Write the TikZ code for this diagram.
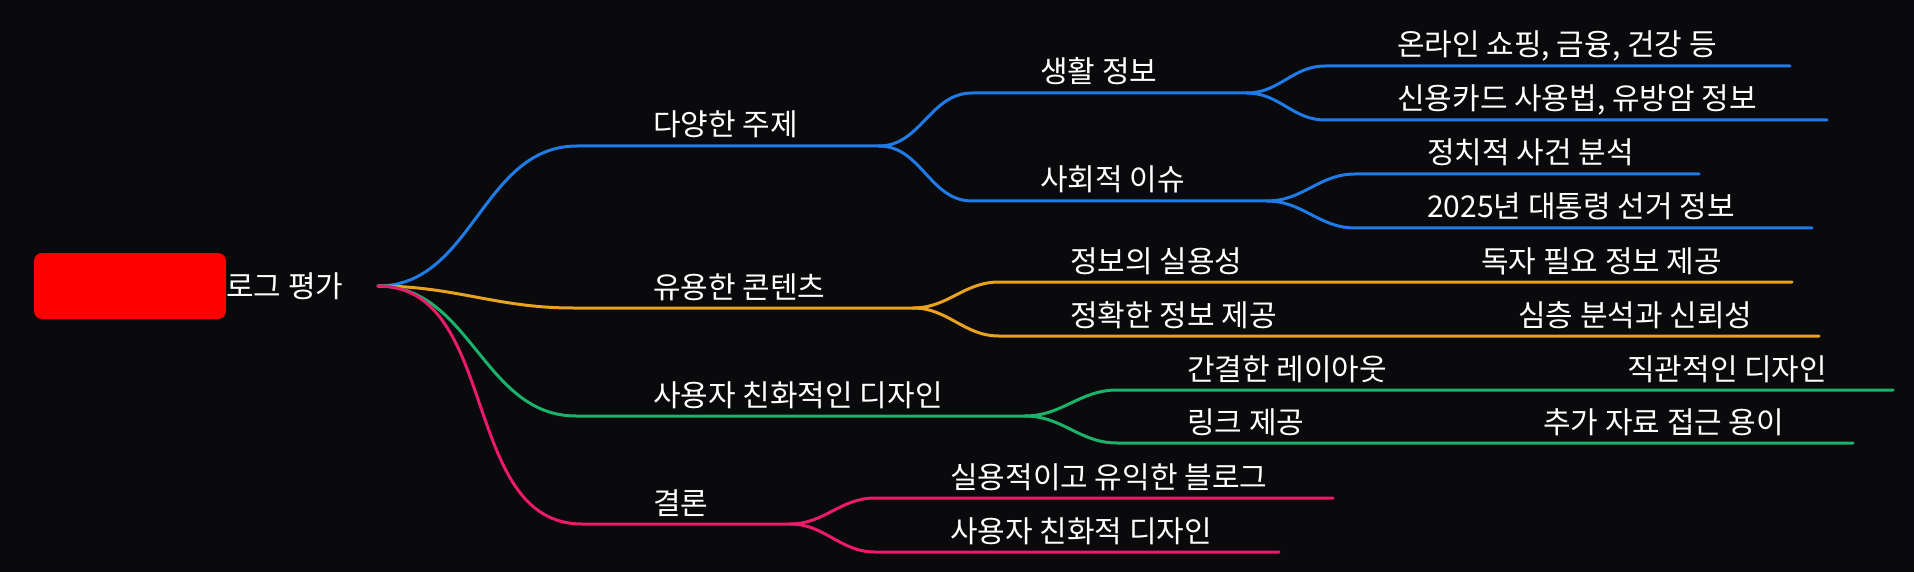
\documentclass[tikz,border=0pt]{standalone}
\usepackage{fontspec}
\setmainfont{Noto Sans CJK KR}
\definecolor{bgc}{HTML}{0A0A0C}
\definecolor{cblue}{HTML}{1E7BE8}
\definecolor{corange}{HTML}{E9A21F}
\definecolor{cgreen}{HTML}{1BB36B}
\definecolor{cpink}{HTML}{EC1A6B}
\begin{document}
\begin{tikzpicture}[x=1pt,y=-1pt,
  br/.style={line width=3pt,line cap=round},
  lbl/.style={text=white,anchor=base west,inner sep=0pt,font=\fontsize{30}{34}\selectfont},
  rootbox/.style={fill=red,rounded corners=8pt}]
\useasboundingbox[fill=bgc] (0,0) rectangle (1914,572);
% root
\fill[rootbox] (34,253) rectangle (226,319);
\node[lbl] (rootlbl) at (226,297) {로그 평가};
\coordinate (root) at (378,286);
% coordinates
\coordinate (b1s) at (577,146); \coordinate (b1e) at (879,146);
\coordinate (b11s) at (972,93); \coordinate (b11e) at (1247,93);
\coordinate (b111s) at (1325,66); \coordinate (b111e) at (1790,66);
\coordinate (b112s) at (1325,120); \coordinate (b112e) at (1827,120);
\coordinate (b12s) at (972,201); \coordinate (b12e) at (1267,201);
\coordinate (b121s) at (1355,174); \coordinate (b121e) at (1699,174);
\coordinate (b122s) at (1355,228); \coordinate (b122e) at (1812,228);
\coordinate (o1s) at (573,308); \coordinate (o1e) at (913,308);
\coordinate (o11s) at (999,282); \coordinate (o11e) at (1792,282);
\coordinate (o12s) at (999,336); \coordinate (o12e) at (1819,336);
\coordinate (g1s) at (576,416); \coordinate (g1e) at (1025,416);
\coordinate (g11s) at (1117,390); \coordinate (g11e) at (1893,390);
\coordinate (g12s) at (1117,443); \coordinate (g12e) at (1853,443);
\coordinate (p1s) at (582,524); \coordinate (p1e) at (790,524);
\coordinate (p11s) at (875,498); \coordinate (p11e) at (1333,498);
\coordinate (p12s) at (875,552); \coordinate (p12e) at (1279,552);
% connectors
\draw[br,cblue] (root) to[out=0,in=180] (b1s) -- (b1e);
\draw[br,cblue] (b1e) to[out=0,in=180] (b11s) -- (b11e);
\draw[br,cblue] (b11e) to[out=0,in=180] (b111s) -- (b111e);
\draw[br,cblue] (b11e) to[out=0,in=180] (b112s) -- (b112e);
\draw[br,cblue] (b1e) to[out=0,in=180] (b12s) -- (b12e);
\draw[br,cblue] (b12e) to[out=0,in=180] (b121s) -- (b121e);
\draw[br,cblue] (b12e) to[out=0,in=180] (b122s) -- (b122e);
\draw[br,corange] (root) to[out=0,in=180] (o1s) -- (o1e);
\draw[br,corange] (o1e) to[out=0,in=180] (o11s) -- (o11e);
\draw[br,corange] (o1e) to[out=0,in=180] (o12s) -- (o12e);
\draw[br,cgreen] (root) to[out=0,in=180] (g1s) -- (g1e);
\draw[br,cgreen] (g1e) to[out=0,in=180] (g11s) -- (g11e);
\draw[br,cgreen] (g1e) to[out=0,in=180] (g12s) -- (g12e);
\draw[br,cpink] (root) to[out=0,in=180] (p1s) -- (p1e);
\draw[br,cpink] (p1e) to[out=0,in=180] (p11s) -- (p11e);
\draw[br,cpink] (p1e) to[out=0,in=180] (p12s) -- (p12e);
% labels
\node[lbl] (t1) at (653,136) {다양한 주제};
\node[lbl] (t11) at (1040,83) {생활 정보};
\node[lbl] (t111) at (1397,56) {온라인 쇼핑, 금융, 건강 등};
\node[lbl] (t112) at (1397,110) {신용카드 사용법, 유방암 정보};
\node[lbl] (t12) at (1040,191) {사회적 이슈};
\node[lbl] (t121) at (1427,164) {정치적 사건 분석};
\node[lbl] (t122) at (1427,218) {2025년 대통령 선거 정보};
\node[lbl] (t2) at (653,298) {유용한 콘텐츠};
\node[lbl] (t21) at (1070,272) {정보의 실용성};
\node[lbl] (t211) at (1481,272) {독자 필요 정보 제공};
\node[lbl] (t22) at (1070,326) {정확한 정보 제공};
\node[lbl] (t221) at (1518,326) {심층 분석과 신뢰성};
\node[lbl] (t3) at (653,406) {사용자 친화적인 디자인};
\node[lbl] (t31) at (1187,380) {간결한 레이아웃};
\node[lbl] (t311) at (1627,380) {직관적인 디자인};
\node[lbl] (t32) at (1187,433) {링크 제공};
\node[lbl] (t321) at (1543,433) {추가 자료 접근 용이};
\node[lbl] (t4) at (653,514) {결론};
\node[lbl] (t41) at (950,488) {실용적이고 유익한 블로그};
\node[lbl] (t42) at (950,542) {사용자 친화적 디자인};
\end{tikzpicture}
\end{document}
